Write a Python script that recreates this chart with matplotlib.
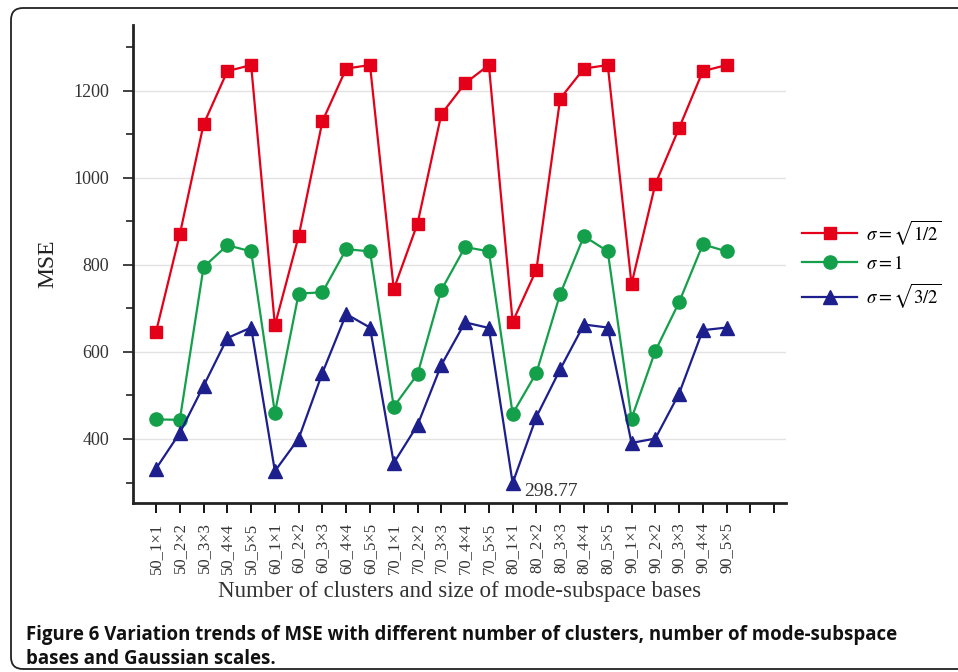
import numpy as np
import matplotlib
matplotlib.use('Agg')
import matplotlib.pyplot as plt
from matplotlib.patches import FancyBboxPatch
from matplotlib.ticker import MultipleLocator

plt.rcParams['font.family'] = 'Liberation Serif'
plt.rcParams['mathtext.fontset'] = 'stix'

labels = ['50_1×1', '50_2×2', '50_3×3', '50_4×4', '50_5×5',
          '60_1×1', '60_2×2', '60_3×3', '60_4×4', '60_5×5',
          '70_1×1', '70_2×2', '70_3×3', '70_4×4', '70_5×5',
          '80_1×1', '80_2×2', '80_3×3', '80_4×4', '80_5×5',
          '90_1×1', '90_2×2', '90_3×3', '90_4×4', '90_5×5']

mse_half = [646, 870, 1123, 1245, 1259,
            661, 866, 1130, 1251, 1259,
            744, 895, 1146, 1217, 1259,
            669, 789, 1182, 1251, 1259,
            756, 985, 1114, 1245, 1259]
mse_one = [445, 444, 795, 845, 831,
           460, 734, 737, 836, 831,
           474, 549, 742, 841, 831,
           458, 552, 733, 866, 831,
           447, 602, 714, 847, 831]
mse_three_half = [332, 414, 522, 632, 656,
                  326, 401, 552, 687, 656,
                  345, 432, 570, 668, 655,
                  298.77, 451, 560, 663, 656,
                  391, 401, 504, 650, 656]

c_red = '#e50019'
c_green = '#14a04a'
c_blue = '#1c1f8c'

fig = plt.figure(figsize=(9.58, 6.72), dpi=100)
ax = fig.add_axes([0.1388, 0.2515, 0.6817, 0.7113])

x = np.arange(len(labels))
ax.plot(x, mse_half, color=c_red, lw=1.6, marker='s', ms=8.5,
        label=r'$\sigma=\sqrt{1/2}$')
ax.plot(x, mse_one, color=c_green, lw=1.6, marker='o', ms=9.5,
        label=r'$\sigma=1$')
ax.plot(x, mse_three_half, color=c_blue, lw=1.6, marker='^', ms=10,
        label=r'$\sigma=\sqrt{3/2}$')

# minimum value callout
i_min = int(np.argmin(mse_three_half))
ax.annotate('%.2f' % mse_three_half[i_min], (x[i_min], mse_three_half[i_min]),
            xytext=(8, -6), textcoords='offset points', fontsize=14,
            color='#333333', va='center', ha='left')

ax.set_xlim(-0.97, 26.5)
ax.set_ylim(253, 1351)
ax.yaxis.set_major_locator(MultipleLocator(200))
ax.yaxis.set_minor_locator(MultipleLocator(100))
ax.set_xticks(np.arange(27))
ax.set_xticklabels(labels + ['', ''], rotation=90, fontsize=12, color='#333333')
ax.tick_params(axis='y', which='major', length=7, width=1.3, labelsize=13,
               colors='#333333', pad=10)
ax.tick_params(axis='y', which='minor', length=5, width=1.3, colors='#333333')
ax.tick_params(axis='x', length=7, width=1.3, pad=7)

ax.grid(axis='y', which='major', color='#e3e3e3', lw=1)
ax.set_axisbelow(True)
for s in ['top', 'right']:
    ax.spines[s].set_visible(False)
for s in ['left', 'bottom']:
    ax.spines[s].set_linewidth(2)
    ax.spines[s].set_color('#222222')

ax.set_ylabel('MSE', fontsize=17, color='#222222', labelpad=11)
ax.set_xlabel('Number of clusters and size of mode-subspace bases',
              fontsize=16.5, color='#333333', labelpad=5)

ax.legend(loc='center left', bbox_to_anchor=(1.005, 0.5), frameon=False,
          fontsize=13.5, handlelength=2.9, handletextpad=0.5, labelspacing=0.45,
          borderaxespad=0.3)

# caption below the plot
cap_font = dict(fontsize=13.4, fontweight='bold', family='Open Sans', color='#111111')
fig.text(0.027, 0.0475, 'Figure 6 Variation trends of MSE with different number of clusters, number of mode-subspace',
         **cap_font)
fig.text(0.027, 0.0125, 'bases and Gaussian scales.', **cap_font)

# rounded frame round the figure
frame = FancyBboxPatch((11, 3), 970, 661, boxstyle='round,pad=0,rounding_size=12',
                       transform=None, fill=False, ec='#222222', lw=1.3)
fig.patches.append(frame)

fig.savefig('out.png', dpi=100)
